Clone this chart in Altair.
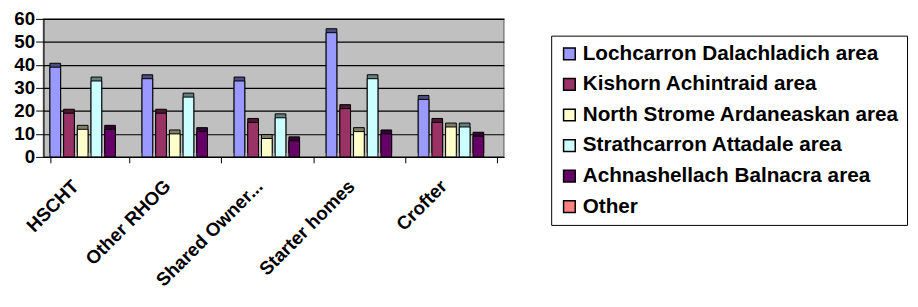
import altair as alt
import pandas as pd

categories = ["HSCHT", "Other RHOG", "Shared Owner...", "Starter homes", "Crofter"]
series = [
    "Lochcarron Dalachladich area",
    "Kishorn Achintraid area",
    "North Strome Ardaneaskan area",
    "Strathcarron Attadale area",
    "Achnashellach Balnacra area",
    "Other",
]
lochcarron = [39, 34, 33, 54, 25]
kishorn = [19, 19, 15, 21, 15]
north_strome = [12, 10, 8, 11, 13]
strathcarron = [33, 26, 17, 34, 13]
achnashellach = [12, 11, 7, 10, 9]
other = [0, 0, 0, 0, 0]

front_colors = ["#9999FF", "#993366", "#FFFFCC", "#CCFFFF", "#660066", "#FF8080"]
side_colors = ["#4C4C80", "#4C1933", "#808066", "#668080", "#330033", "#804040"]

values = [lochcarron, kishorn, north_strome, strathcarron, achnashellach, other]
rows = []
for s, vals in zip(series, values):
    for c, v in zip(categories, vals):
        rows.append({"category": c, "series": s, "value": v})
df = pd.DataFrame(rows)

font = "Liberation Sans"

x_enc = alt.X(
    "category:N",
    sort=categories,
    title=None,
    scale=alt.Scale(domain=categories, paddingInner=0.14, paddingOuter=0.07),
    axis=alt.Axis(
        labelAngle=-45,
        labelFont=font,
        labelFontSize=19,
        labelFontWeight="bold",
        labelColor="black",
        domainColor="black",
        tickColor="black",
        tickSize=6,
        tickBand="extent",
        labelPadding=14,
        labelOffset=-21,
        labelLimit=300,
    ),
)
xo_enc = alt.XOffset(
    "series:N", sort=series, scale=alt.Scale(domain=series, paddingInner=0.22, paddingOuter=0)
)
y_enc = alt.Y(
    "value:Q",
    title=None,
    scale=alt.Scale(domain=[0, 60]),
    axis=alt.Axis(
        values=[0, 10, 20, 30, 40, 50, 60],
        labelFont=font,
        labelFontSize=19,
        labelFontWeight="bold",
        labelColor="black",
        domainColor="black",
        tickColor="black",
        tickSize=8,
        labelPadding=1,
        gridColor="black",
        gridWidth=1.2,
    ),
)

base = alt.Chart(df).transform_filter(alt.datum.value > 0)

side = base.mark_bar(
    xOffset=4, x2Offset=4, yOffset=-4, y2Offset=-4, stroke="black", strokeWidth=1
).encode(
    x=x_enc,
    xOffset=xo_enc,
    y=y_enc,
    color=alt.Color("series:N", sort=series, scale=alt.Scale(domain=series, range=side_colors), legend=None),
)

front = base.mark_bar(stroke="black", strokeWidth=1).encode(
    x=x_enc,
    xOffset=xo_enc,
    y=y_enc,
    color=alt.Color(
        "series:N",
        sort=series,
        scale=alt.Scale(domain=series, range=front_colors),
        legend=alt.Legend(
            title=None,
            orient="none",
            legendX=515,
            legendY=17,
            labelFont=font,
            labelFontSize=21,
            labelFontWeight="bold",
            labelColor="black",
            symbolType="square",
            symbolSize=140,
            symbolStrokeColor="black",
            symbolStrokeWidth=1.5,
            rowPadding=9,
            padding=8,
            strokeColor="black",
            labelLimit=400,
            labelOffset=3,
            values=series,
        ),
    ),
)

chart = (
    alt.layer(side, front)
    .resolve_scale(color="independent")
    .properties(
        width=467,
        height=140,
        padding={"left": 5, "top": 0, "right": 2, "bottom": 0},
        background="white",
    )
    .configure_view(fill="#C0C0C0", stroke="#808080", strokeWidth=1.5)
)

chart.save("out.html", embed_options={"renderer": "svg", "actions": False})
